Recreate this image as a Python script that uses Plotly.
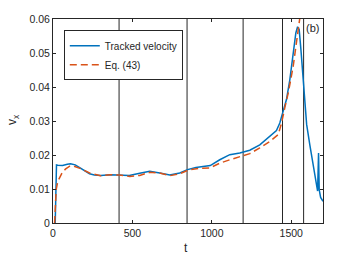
import plotly.graph_objects as go

# Tracked velocity (blue)
t_tracked = [14, 22, 30, 60, 90, 110, 140, 170, 200, 230, 260, 300, 360, 416, 480,
             546, 609, 672, 735, 798, 847, 900, 950, 990, 1050, 1113, 1176, 1239,
             1302, 1365, 1407, 1428, 1445, 1470, 1491, 1512, 1529, 1540, 1550, 1561,
             1580, 1597, 1617, 1638, 1655, 1666, 1672, 1676, 1685, 1700]
v_tracked = [0, 0.0171, 0.0170, 0.0169, 0.0173, 0.01745, 0.0171, 0.0162, 0.0153,
             0.0145, 0.0141, 0.0140, 0.0142, 0.0141, 0.0140, 0.0146, 0.0152, 0.0147,
             0.0141, 0.0147, 0.0157, 0.0163, 0.0166, 0.0169, 0.0186, 0.0201, 0.0206,
             0.0214, 0.0230, 0.0255, 0.0272, 0.0294, 0.0319, 0.0363, 0.0421, 0.0500,
             0.0559, 0.0577, 0.0569, 0.0510, 0.0382, 0.0290, 0.0230, 0.0176, 0.0122,
             0.0094, 0.0206, 0.0098, 0.0075, 0.0064]

# Eq. (43) (red dashed)
t_eq = [10, 20, 30, 45, 60, 80, 105, 125, 150, 180, 230, 300, 360, 416, 483, 546,
        609, 672, 735, 798, 861, 924, 987, 1050, 1113, 1176, 1239, 1302, 1365, 1418,
        1439, 1460, 1481, 1512, 1534, 1555, 1565]
v_eq = [0, 0.0098, 0.0122, 0.0137, 0.0150, 0.0159, 0.0167, 0.0168, 0.0164, 0.0159,
        0.0147, 0.0139, 0.0142, 0.0141, 0.0137, 0.0140, 0.0149, 0.0147, 0.0139,
        0.0145, 0.0157, 0.0161, 0.0162, 0.0176, 0.0186, 0.0196, 0.0204, 0.0221,
        0.0240, 0.0260, 0.0294, 0.0340, 0.0382, 0.0460, 0.0530, 0.0598, 0.0640]

vline_t = [416, 844, 1197, 1445, 1578]

x_ticks = [0, 500, 1000, 1500]
y_ticks = [0, 0.01, 0.02, 0.03, 0.04, 0.05, 0.06]

fig = go.Figure()
fig.add_trace(go.Scatter(x=t_tracked, y=v_tracked, mode="lines", name="Tracked velocity",
                         line=dict(color="#0072BD", width=1.5)))
fig.add_trace(go.Scatter(x=t_eq, y=v_eq, mode="lines", name="Eq. (43)",
                         line=dict(color="#D95319", width=1.5, dash="7px,4px")))

for xv in vline_t:
    fig.add_shape(type="line", x0=xv, x1=xv, y0=0, y1=1, xref="x", yref="y domain",
                  line=dict(color="#262626", width=1), layer="below")

axis_common = dict(showgrid=False, zeroline=False, showline=True, linecolor="#262626",
                   linewidth=1, mirror="ticks", ticks="inside", ticklen=3,
                   tickcolor="#262626", tickfont=dict(size=10.5, color="#262626"),
                   automargin=False)

fig.update_xaxes(range=[0, 1700], tickvals=x_ticks, **axis_common)
fig.update_yaxes(range=[0, 0.06], tickvals=y_ticks, tickformat="~g", **axis_common)

# Axis titles
fig.add_annotation(x=0.493, y=-0.1225, xref="paper", yref="paper", text="t",
                   showarrow=False, xanchor="center", yanchor="middle",
                   font=dict(size=12, color="#262626"))
fig.add_annotation(x=-0.148, y=0.505, xref="paper", yref="paper", text="v<sub>x</sub>",
                   showarrow=False, xanchor="center", yanchor="middle", textangle=-90,
                   font=dict(size=12, color="#262626"))

fig.add_annotation(x=1, y=1, xref="paper", yref="paper", text="(b)", showarrow=False,
                   xanchor="right", yanchor="top", xshift=-2, yshift=-1,
                   font=dict(size=11, color="#262626"))

# The page body adds an 8px margin; the figure is offset to compensate.
fig.update_layout(
    width=349, height=252,
    margin=dict(l=45, r=34, t=11, b=37, autoexpand=False),
    plot_bgcolor="white", paper_bgcolor="white",
    font=dict(family="Liberation Sans, Arial, sans-serif", size=10.5, color="#262626"),
    legend=dict(x=0.04, y=0.945, xanchor="left", yanchor="top",
                bgcolor="white", bordercolor="#262626", borderwidth=1,
                font=dict(size=10), tracegroupgap=0, itemwidth=30),
    showlegend=True,
)

fig.write_html("out.html")
